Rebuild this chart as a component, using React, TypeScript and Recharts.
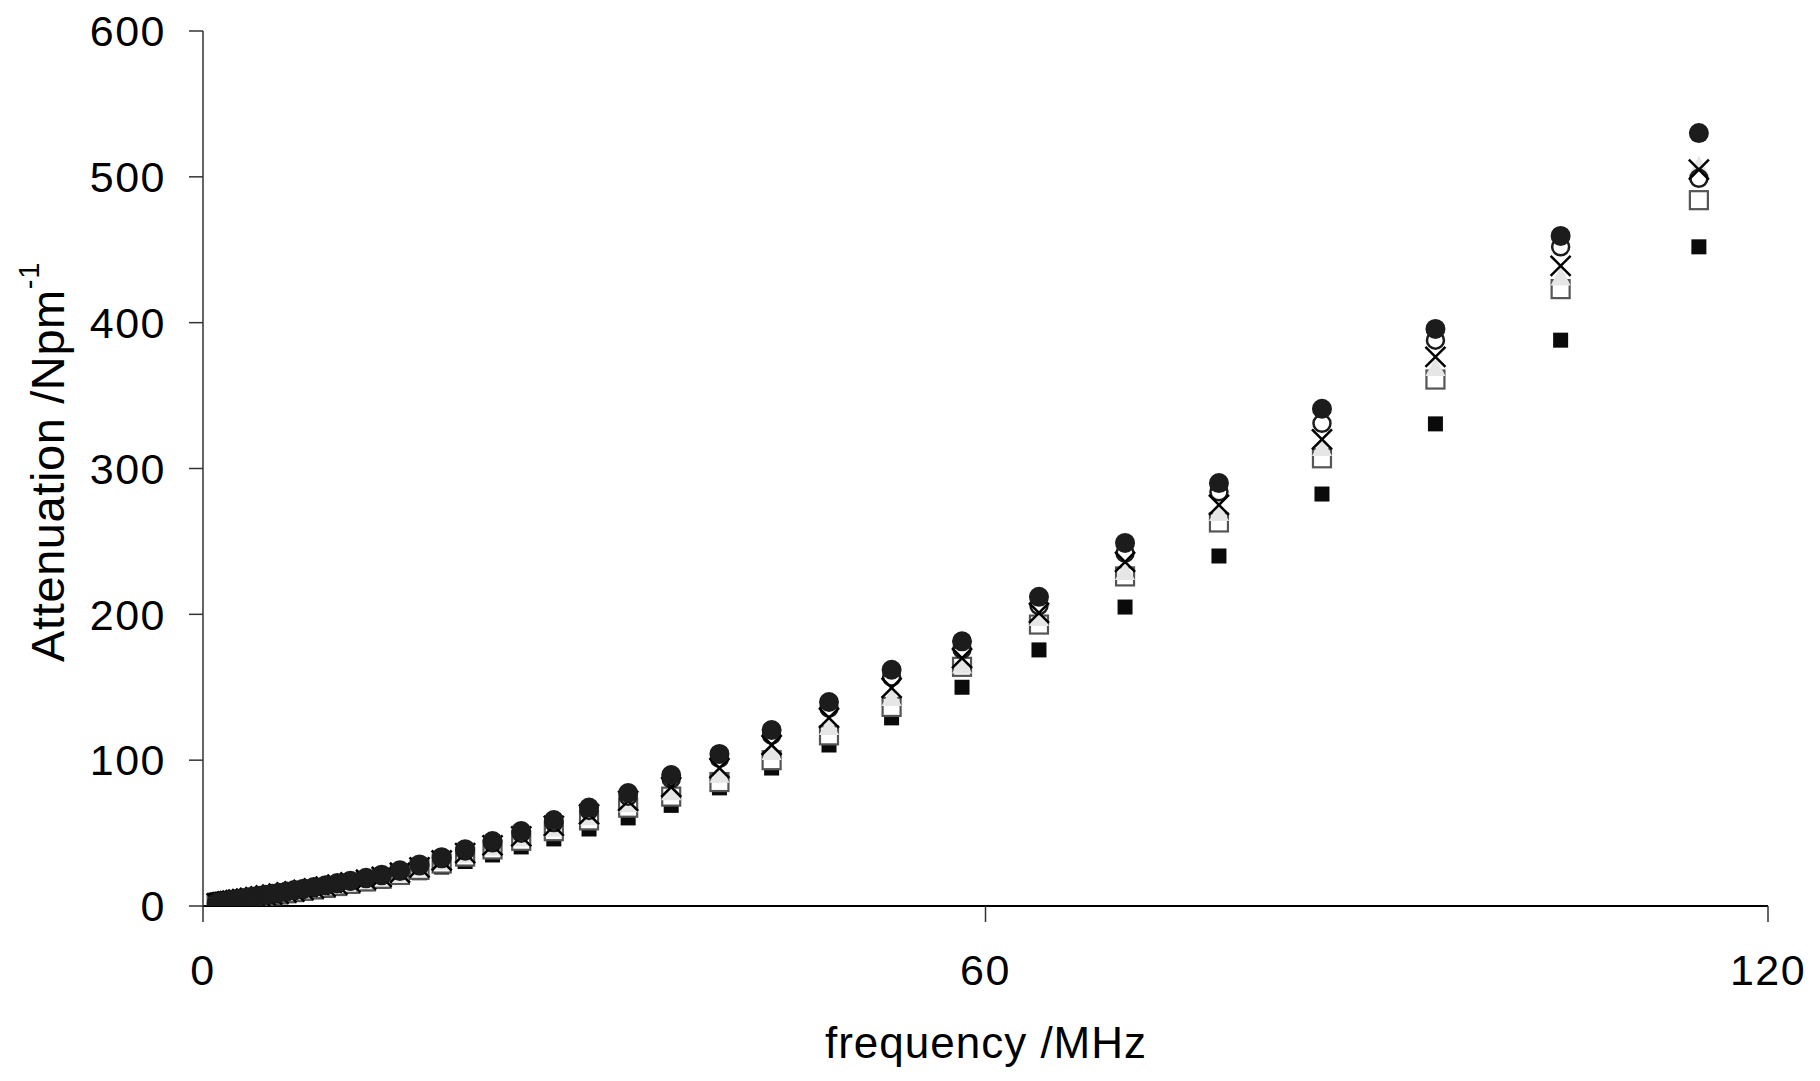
import React from "react";
import { ScatterChart, Scatter, XAxis, YAxis, Label } from "recharts";

// frequency (MHz)
const freq = [
  1.05, 1.16, 1.27, 1.4, 1.54, 1.69, 1.86, 2.05, 2.25, 2.5,
  2.7, 3.0, 3.3, 3.6, 4.0, 4.4, 4.8, 5.3, 5.8, 6.4,
  7.0, 7.7, 8.5, 9.4, 10.3, 11.3, 12.5, 13.7, 15.1, 16.6,
  18.3, 20.1, 22.2, 24.4, 26.9, 29.6, 32.6, 35.9, 39.6, 43.6,
  48.0, 52.8, 58.2, 64.1, 70.7, 77.9, 85.8, 94.5, 104.1, 114.7,
];

// attenuation (Np/m) per series
const filledCircle = [
  2.0, 2.2, 2.4, 2.6, 2.9, 3.1, 3.4, 3.7, 4.0, 4.4,
  4.7, 5.1, 5.5, 6.0, 6.5, 7.1, 7.7, 8.4, 9.1, 10.0,
  10.9, 11.9, 13.0, 14.3, 15.8, 17.4, 19.4, 21.5, 24.5, 28.5,
  33.5, 39, 44.6, 51.4, 59, 67.5, 77.5, 89.8, 104.3, 120.7,
  139.9, 162, 181.5, 212, 249, 290, 341, 395.7, 459.5, 530,
];
const openCircle = [
  1.9, 2.1, 2.3, 2.5, 2.8, 3.0, 3.3, 3.6, 3.9, 4.3,
  4.6, 4.9, 5.3, 5.8, 6.3, 6.9, 7.5, 8.1, 8.8, 9.7,
  10.6, 11.5, 12.6, 13.9, 15.3, 16.9, 18.8, 20.9, 23.8, 27.6,
  32.5, 37.8, 43.3, 49.9, 57.2, 65.5, 75.2, 87.1, 101.2, 117.1,
  135.7, 157, 176, 206, 242, 284, 331, 388, 452, 499,
];
const cross = [
  1.8, 2.0, 2.2, 2.4, 2.7, 2.9, 3.2, 3.4, 3.7, 4.1,
  4.4, 4.7, 5.1, 5.6, 6.0, 6.6, 7.2, 7.8, 8.5, 9.3,
  10.1, 11.1, 12.1, 13.3, 14.7, 16.2, 18.0, 20.0, 22.8, 26.5,
  31.2, 36.3, 41.5, 47.8, 54.9, 62.8, 72.1, 81.6, 94.6, 110.4,
  129, 149.5, 170, 201, 236, 275, 320, 376.5, 439, 505,
];
const triangle = [
  1.8, 2.0, 2.1, 2.3, 2.6, 2.8, 3.1, 3.3, 3.6, 4.0,
  4.2, 4.6, 5.0, 5.4, 5.9, 6.4, 6.9, 7.6, 8.2, 9.0,
  9.8, 10.7, 11.7, 12.9, 14.2, 15.7, 17.5, 19.4, 22.1, 25.7,
  30.2, 35.1, 40.1, 46.3, 53.1, 60.8, 69.8, 78, 90, 105.6,
  122.8, 142.7, 165, 197.5, 229, 269.5, 314, 369, 431, 507,
];
const openSquare = [
  1.7, 1.9, 2.1, 2.3, 2.5, 2.7, 3.0, 3.2, 3.5, 3.8,
  4.1, 4.4, 4.8, 5.2, 5.7, 6.2, 6.7, 7.3, 7.9, 8.7,
  9.5, 10.4, 11.3, 12.4, 13.7, 15.2, 16.9, 18.7, 21.3, 24.8,
  29.1, 33.9, 38.8, 44.7, 51.3, 58.7, 67.4, 75, 85, 100,
  117, 136.5, 164, 193, 226, 263, 307, 361, 423, 484,
];
const filledSquare = [
  1.6, 1.7, 1.9, 2.1, 2.3, 2.4, 2.7, 2.9, 3.2, 3.5,
  3.7, 4.0, 4.3, 4.7, 5.1, 5.6, 6.1, 6.6, 7.2, 7.9,
  8.6, 9.4, 10.3, 11.3, 12.5, 13.8, 15.3, 17.0, 20.2, 22.8,
  26.7, 30.5, 35, 40.5, 46, 52.8, 60.4, 69, 81, 94.6,
  110.4, 129, 150, 175.6, 205, 240, 282.5, 330.6, 388, 452,
];

const xTicks = [0, 60, 120];
const yTicks = [0, 100, 200, 300, 400, 500, 600];

const toPoints = (vals: number[]) => freq.map((f, i) => ({ x: f, y: vals[i] }));

const FONT = "'Liberation Sans', Arial, Helvetica, sans-serif";

const FilledCircleShape = (p: any) => <circle cx={p.cx} cy={p.cy} r={10} fill="#1c1c1c" />;
const OpenCircleShape = (p: any) => (
  <circle cx={p.cx} cy={p.cy} r={8.5} fill="#ffffff" stroke="#1c1c1c" strokeWidth={2.5} />
);
const CrossShape = (p: any) => (
  <g stroke="#000" strokeWidth={2.5}>
    <line x1={p.cx - 10} y1={p.cy - 10} x2={p.cx + 10} y2={p.cy + 10} />
    <line x1={p.cx - 10} y1={p.cy + 10} x2={p.cx + 10} y2={p.cy - 10} />
  </g>
);
const TriangleShape = (p: any) => (
  <polygon
    points={`${p.cx},${p.cy - 11} ${p.cx + 10},${p.cy + 8} ${p.cx - 10},${p.cy + 8}`}
    fill="#e6e6e6"
  />
);
const OpenSquareShape = (p: any) => (
  <rect x={p.cx - 9} y={p.cy - 9} width={18} height={18} fill="#ffffff" stroke="#555" strokeWidth={2.2} />
);
const FilledSquareShape = (p: any) => (
  <rect x={p.cx - 7.5} y={p.cy - 7.5} width={15} height={15} fill="#0a0a0a" />
);

const tickStyle = { fontFamily: FONT, fontSize: 43, fill: "#000", letterSpacing: 1.5 };

const YLabel = () => (
  <text
    x={64}
    y={462}
    transform="rotate(-90, 64, 462)"
    textAnchor="middle"
    fontFamily={FONT}
    fontSize={47}
    letterSpacing={0.6}
    fill="#000"
  >
    Attenuation /Npm
    <tspan dy={-25} fontSize={29}>-1</tspan>
  </text>
);

const XLabel = () => (
  <text x={986} y={1058} textAnchor="middle" fontFamily={FONT} fontSize={44} letterSpacing={1} fill="#000">
    frequency /MHz
  </text>
);

export default function App() {
  return (
    <div style={{ position: "absolute", left: 0, top: 0, width: 1820, height: 1081, background: "#fff" }}>
      <ScatterChart width={1820} height={1081} margin={{ top: 31, right: 52, bottom: 0, left: 53 }}>
        <XAxis
          type="number"
          dataKey="x"
          domain={[0, 120]}
          ticks={xTicks}
          interval={0}
          height={175}
          tickSize={16}
          tickMargin={32}
          axisLine={{ stroke: "#000", strokeWidth: 2 }}
          tickLine={{ stroke: "#333", strokeWidth: 1.5 }}
          tick={tickStyle}
          allowDataOverflow
        >
          <Label content={<XLabel />} />
        </XAxis>
        <YAxis
          type="number"
          dataKey="y"
          domain={[0, 600]}
          ticks={yTicks}
          interval={0}
          width={150}
          tickSize={14}
          tickMargin={23}
          axisLine={{ stroke: "#333", strokeWidth: 1.5 }}
          tickLine={{ stroke: "#333", strokeWidth: 1.5 }}
          tick={tickStyle}
          allowDataOverflow
        >
          <Label content={<YLabel />} />
        </YAxis>
        <Scatter name="filled square" data={toPoints(filledSquare)} shape={FilledSquareShape} isAnimationActive={false} />
        <Scatter name="open square" data={toPoints(openSquare)} shape={OpenSquareShape} isAnimationActive={false} />
        <Scatter name="triangle" data={toPoints(triangle)} shape={TriangleShape} isAnimationActive={false} />
        <Scatter name="open circle" data={toPoints(openCircle)} shape={OpenCircleShape} isAnimationActive={false} />
        <Scatter name="cross" data={toPoints(cross)} shape={CrossShape} isAnimationActive={false} />
        <Scatter name="filled circle" data={toPoints(filledCircle)} shape={FilledCircleShape} isAnimationActive={false} />
      </ScatterChart>
    </div>
  );
}
